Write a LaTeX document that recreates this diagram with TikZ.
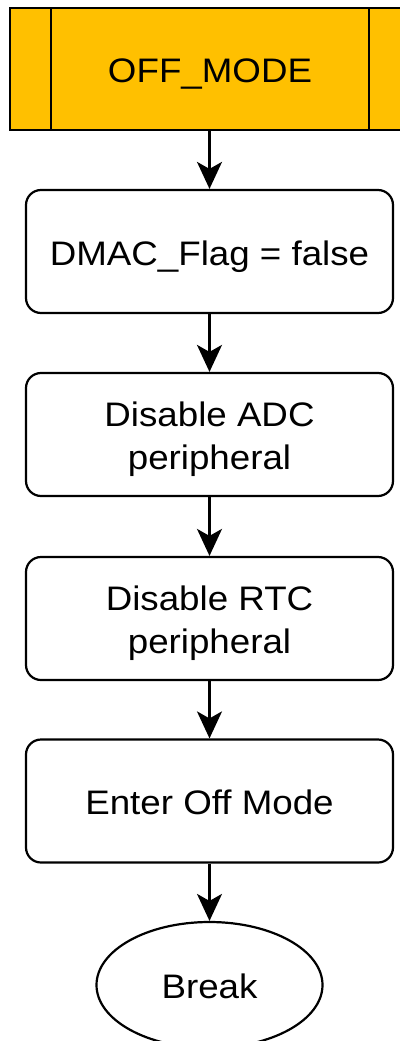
\documentclass[tikz,border=0pt]{standalone}
\usepackage{fontspec}
\setmainfont{Liberation Sans}[FakeStretch=1.08]
\usetikzlibrary{shapes.geometric,arrows.meta}
\definecolor{modeamber}{RGB}{255,192,0}
\tikzset{
  label font/.style={font=\fontsize{34}{43}\selectfont, text height=27.6pt, text depth=0pt},
  two lines/.style={text height=70.6pt},
  stepbox/.style={draw=black, line width=2.2pt, rounded corners=15pt, fill=white,
    minimum width=367pt, minimum height=123pt, inner sep=0pt, align=center,
    label font},
  modebox/.style={draw=black, line width=2.4pt, fill=modeamber,
    minimum width=400pt, minimum height=122pt, inner sep=0pt, label font},
  endoval/.style={draw=black, line width=2.2pt, ellipse, fill=white,
    minimum width=226pt, minimum height=126pt, inner sep=0pt, label font},
  flow/.style={draw=black, line width=2.2pt,
    -{Stealth[length=27pt,width=25pt,inset=7pt]}}
}
\begin{document}
\begin{tikzpicture}[x=1pt,y=-1pt]
  \useasboundingbox (0,0) rectangle (399,1041);
  \fill[white] (0,0) rectangle (399,1041);

  % subroutine header block
  \node[modebox] (mode) at (210,69) {OFF\_MODE};
  \draw[line width=2.2pt] (51,8) -- (51,130);
  \draw[line width=2.2pt] (369,8) -- (369,130);

  % process steps
  \node[stepbox] (flag) at (209.5,251.5) {DMAC\_Flag = false};
  \node[stepbox, two lines] (adc) at (209.5,434.5) {Disable ADC\\peripheral};
  \node[stepbox, two lines] (rtc) at (209.5,618.5) {Disable RTC\\peripheral};
  \node[stepbox] (off)  at (209.5,801)   {Enter Off Mode};
  \node[endoval] (brk)  at (209.5,985)   {Break};

  % connectors
  \draw[flow] (mode.south -| flag.north) -- (flag.north);
  \draw[flow] (flag.south) -- (adc.north);
  \draw[flow] (adc.south) -- (rtc.north);
  \draw[flow] (rtc.south) -- (off.north);
  \draw[flow] (off.south) -- (brk.north);
\end{tikzpicture}
\end{document}
